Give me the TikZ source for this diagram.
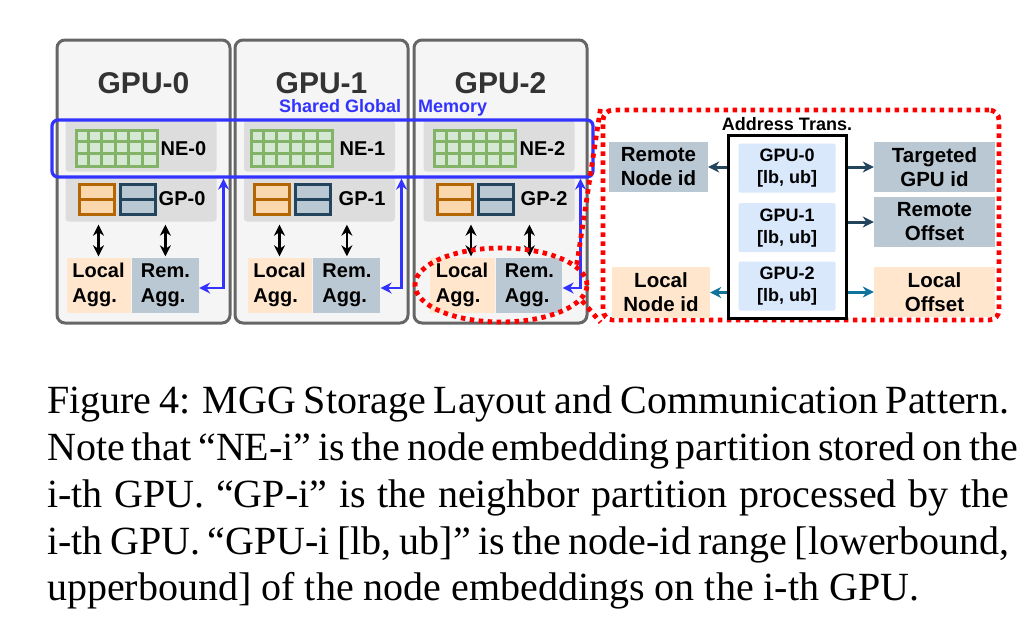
\documentclass[tikz,border=0pt]{standalone}
\usepackage{fontspec}
\setmainfont{Liberation Serif}
\setsansfont{Liberation Sans}
\usetikzlibrary{shapes.geometric,arrows.meta,positioning,calc}

\definecolor{gpuedge}{HTML}{666666}
\definecolor{gpufill}{HTML}{F5F5F5}
\definecolor{partgray}{HTML}{DDDDDD}
\definecolor{negreen}{HTML}{82B366}
\definecolor{nefill}{HTML}{D5E8D4}
\definecolor{orgedge}{HTML}{B46504}
\definecolor{orgfill}{HTML}{FAD7AC}
\definecolor{slateedge}{HTML}{23445D}
\definecolor{slatefill}{HTML}{BAC8D3}
\definecolor{peach}{HTML}{FFE6CC}
\definecolor{rangefill}{HTML}{DAE8FC}
\definecolor{memblue}{HTML}{3333FF}
\definecolor{tealarrow}{HTML}{10739E}
\definecolor{titlegray}{HTML}{333333}

\begin{document}
\begin{tikzpicture}[
  x=1pt, y=-1pt,
  >={Stealth[length=11pt,width=11pt]},
  gpubox/.style={draw=gpuedge, fill=gpufill, line width=3pt, rounded corners=8pt,
    minimum width=173pt, minimum height=283pt},
  gputitle/.style={text=titlegray, inner sep=0pt, font=\sffamily\bfseries\fontsize{30}{36}\selectfont},
  partbox/.style={fill=partgray, rounded corners=3pt, minimum width=151pt},
  negrid/.style={draw=negreen, fill=nefill, line width=3pt, inner sep=0pt,
    minimum width=81pt, minimum height=36pt},
  gridline/.style={draw=negreen, line width=3pt},
  gpcell/.style={line width=3pt, inner sep=0pt, minimum width=35pt, minimum height=30pt},
  partlabel/.style={inner sep=0pt, font=\sffamily\bfseries\fontsize{20}{24}\selectfont},
  aggbox/.style={minimum height=55pt, inner sep=0pt, align=left,
    font=\sffamily\bfseries\fontsize{20}{25}\selectfont},
  aggarrow/.style={<->, line width=2.5pt, shorten <=3pt, shorten >=1pt},
  memrect/.style={draw=memblue, line width=3.2pt, rounded corners=6pt,
    minimum width=541pt, minimum height=57pt},
  memarrow/.style={<->, draw=memblue, line width=2.8pt},
  reddot/.style={draw=red, line width=4.8pt, dash pattern=on 4.5pt off 4.5pt},
  rangebox/.style={fill=rangefill, rounded corners=2pt, minimum width=97pt, minimum height=49pt,
    inner sep=0pt, align=center, font=\sffamily\bfseries\fontsize{18}{22}\selectfont},
  infobox/.style={minimum height=50pt, inner sep=0pt, align=center,
    font=\sffamily\bfseries\fontsize{20.5}{24}\selectfont},
  idarrow/.style={->, line width=3pt},
  caption/.style={inner sep=0pt, anchor=base west, font=\fontsize{40}{47}\selectfont}
]

\path[use as bounding box, fill=white] (0,0) rectangle (1036,629);

% GPU-0
\node[gpubox] (GPU0) at (143.5,181.5) {};
\node[gputitle] (Title0) at ($(GPU0.north)+(0,45)$) {GPU-0};
\node[partbox, minimum height=51pt] (NEpart0) at ($(GPU0.north west)+(85.5,107.5)$) {};
\node[partbox, minimum height=45pt] (GPpart0) at ($(GPU0.north west)+(85.5,160.5)$) {};
\node[negrid] (NEgrid0) at ($(GPU0.north west)+(61,110)$) {};
\foreach \k in {1,...,5} \draw[gridline] ($(NEgrid0.north west)+(13.5*\k,0)$) -- ++(0,36);
\foreach \k in {1,2} \draw[gridline] ($(NEgrid0.north west)+(0,12*\k)$) -- ++(81,0);
\node[partlabel, right=2pt of NEgrid0] (NElabel0) {NE-0};
\node[gpcell, draw=orgedge, fill=orgfill] (GPloc0) at ($(GPU0.north west)+(41,160.5)$) {};
\draw[orgedge, line width=3pt] (GPloc0.west) -- (GPloc0.east);
\node[gpcell, draw=slateedge, fill=slatefill, right=3pt of GPloc0] (GPrem0) {};
\draw[slateedge, line width=3pt] (GPrem0.west) -- (GPrem0.east);
\node[partlabel, right=2pt of GPrem0] (GPlabel0) {GP-0};
\node[aggbox, fill=peach, minimum width=64pt] (LocAgg0) at ($(GPU0.north west)+(43,246.5)$) {Local\\Agg.};
\node[aggbox, fill=slatefill, minimum width=67pt, right=1pt of LocAgg0] (RemAgg0) {Rem.\\Agg.};
\draw[aggarrow] (LocAgg0.north |- GPpart0.south) -- (LocAgg0.north);
\draw[aggarrow] (RemAgg0.north |- GPpart0.south) -- (RemAgg0.north);

% GPU-1
\node[gpubox] (GPU1) at ($(GPU0.center)+(178,0)$) {};
\node[gputitle] (Title1) at ($(GPU1.north)+(0,45)$) {GPU-1};
\node[partbox, minimum height=51pt] (NEpart1) at ($(GPU1.north west)+(86,107.5)$) {};
\node[partbox, minimum height=45pt] (GPpart1) at ($(GPU1.north west)+(86,160.5)$) {};
\node[negrid] (NEgrid1) at ($(GPU1.north west)+(58,110)$) {};
\foreach \k in {1,...,5} \draw[gridline] ($(NEgrid1.north west)+(13.5*\k,0)$) -- ++(0,36);
\foreach \k in {1,2} \draw[gridline] ($(NEgrid1.north west)+(0,12*\k)$) -- ++(81,0);
\node[partlabel, right=6pt of NEgrid1] (NElabel1) {NE-1};
\node[gpcell, draw=orgedge, fill=orgfill] (GPloc1) at ($(GPU1.north west)+(38,160.5)$) {};
\draw[orgedge, line width=3pt] (GPloc1.west) -- (GPloc1.east);
\node[gpcell, draw=slateedge, fill=slatefill, right=3pt of GPloc1] (GPrem1) {};
\draw[slateedge, line width=3pt] (GPrem1.west) -- (GPrem1.east);
\node[partlabel, right=7pt of GPrem1] (GPlabel1) {GP-1};
\node[aggbox, fill=peach, minimum width=64pt] (LocAgg1) at ($(GPU1.north west)+(46,246.5)$) {Local\\Agg.};
\node[aggbox, fill=slatefill, minimum width=67pt, right=1.5pt of LocAgg1] (RemAgg1) {Rem.\\Agg.};
\draw[aggarrow] (LocAgg1.north |- GPpart1.south) -- (LocAgg1.north);
\draw[aggarrow] (RemAgg1.north |- GPpart1.south) -- (RemAgg1.north);

% GPU-2
\node[gpubox] (GPU2) at ($(GPU1.center)+(179,0)$) {};
\node[gputitle] (Title2) at ($(GPU2.north)+(0,45)$) {GPU-2};
\node[partbox, minimum height=51pt] (NEpart2) at ($(GPU2.north west)+(86.5,107.5)$) {};
\node[partbox, minimum height=45pt] (GPpart2) at ($(GPU2.north west)+(86.5,160.5)$) {};
\node[negrid] (NEgrid2) at ($(GPU2.north west)+(62,110)$) {};
\foreach \k in {1,...,5} \draw[gridline] ($(NEgrid2.north west)+(13.5*\k,0)$) -- ++(0,36);
\foreach \k in {1,2} \draw[gridline] ($(NEgrid2.north west)+(0,12*\k)$) -- ++(81,0);
\node[partlabel, right=3pt of NEgrid2] (NElabel2) {NE-2};
\node[gpcell, draw=orgedge, fill=orgfill] (GPloc2) at ($(GPU2.north west)+(42,160.5)$) {};
\draw[orgedge, line width=3pt] (GPloc2.west) -- (GPloc2.east);
\node[gpcell, draw=slateedge, fill=slatefill, right=3pt of GPloc2] (GPrem2) {};
\draw[slateedge, line width=3pt] (GPrem2.west) -- (GPrem2.east);
\node[partlabel, right=6pt of GPrem2] (GPlabel2) {GP-2};
\node[aggbox, fill=peach, minimum width=65pt] (LocAgg2) at ($(GPU2.north west)+(49.5,246.5)$) {Local\\Agg.};
\node[aggbox, fill=slatefill, minimum width=66pt, right=1.5pt of LocAgg2] (RemAgg2) {Rem.\\Agg.};
\draw[aggarrow] ([xshift=9pt]LocAgg2.north |- GPpart2.south) -- ([xshift=9pt]LocAgg2.north);
\draw[aggarrow] (RemAgg2.north |- GPpart2.south) -- (RemAgg2.north);

% shared global memory
\node[memrect] (SGM) at (322.5,148.5) {};
\node[anchor=base west, inner sep=0pt, text=memblue, font=\sffamily\bfseries\fontsize{18}{22}\selectfont]
  (SGMlabel) at (279,112.5) {Shared Global\hspace{12pt} Memory};
\coordinate (Up0) at ($(GPU0.east)+(-8,0)$);
\coordinate (Up1) at ($(GPU1.east)+(-8,0)$);
\coordinate (Up2) at ($(GPU2.east)+(-8,0)$);
\draw[memarrow] ([yshift=-3pt]RemAgg0.east) -| (Up0 |- SGM.south);
\draw[memarrow] ([yshift=-3pt]RemAgg1.east) -| (Up1 |- SGM.south);
\draw[memarrow] ([yshift=-3pt]RemAgg2.east) -| (Up2 |- SGM.south);

% address translation
\node[reddot, ellipse, minimum width=172pt, minimum height=74pt] (AggRing) at (501,285) {};
\node[reddot, rounded corners=10pt, minimum width=396pt, minimum height=210pt] (ATzone) at (801,215) {};
\draw[reddot] (AggRing.15) -- (ATzone.north west);
\draw[reddot] (AggRing.-11) -- (ATzone.south west);

\node[draw, line width=3pt, minimum width=118pt, minimum height=183pt] (ATbox) at (787,226.5) {};
\node[above=3pt of ATbox, inner sep=0pt, font=\sffamily\bfseries\fontsize{18}{22}\selectfont] (ATtitle) {Address Trans.};
\node[rangebox, below=10pt of ATbox.north] (Range0) {GPU-0\\{[lb, ub]}};
\node[rangebox, below=10pt of Range0] (Range1) {GPU-1\\{[lb, ub]}};
\node[rangebox, below=9pt of Range1] (Range2) {GPU-2\\{[lb, ub]}};

\node[infobox, fill=slatefill, minimum width=99pt] (RemoteNode) at (658.5,167) {Remote\\Node id};
\node[infobox, fill=peach, minimum width=98pt, minimum height=51pt] (LocalNode) at (661,292.5) {Local\\Node id};
\node[infobox, fill=slatefill, minimum width=121pt] (TargetGPU) at (934.5,167) {Targeted\\GPU id};
\node[infobox, fill=slatefill, minimum width=121pt] (RemoteOff) at (934.5,222) {Remote\\Offset};
\node[infobox, fill=peach, minimum width=121pt] (LocalOff) at (934.5,292) {Local\\Offset};

\draw[idarrow, slateedge] (ATbox.west |- RemoteNode) -- (RemoteNode.east);
\draw[idarrow, slateedge] (ATbox.east |- TargetGPU) -- (TargetGPU.west);
\draw[idarrow, slateedge] (ATbox.east |- RemoteOff) -- (RemoteOff.west);
\draw[idarrow, tealarrow] (ATbox.west |- LocalNode) -- (LocalNode.east);
\draw[idarrow, tealarrow] (ATbox.east |- LocalOff) -- (LocalOff.west);

% caption
\node[caption] (Cap1) at (47,413) {\makebox[962pt][s]{Figure 4: MGG Storage Layout and Communication Pattern.}};
\node[caption] (Cap2) at (47,460) {\makebox[962pt][s]{Note that “NE-i” is the node embedding partition stored on the}};
\node[caption] (Cap3) at (47,507) {\makebox[962pt][s]{i-th GPU. “GP-i” is the neighbor partition processed by the}};
\node[caption] (Cap4) at (47,554) {\makebox[962pt][s]{i-th GPU. “GPU-i [lb, ub]” is the node-id range [lowerbound,}};
\node[caption] (Cap5) at (47,600) {upperbound] of the node embeddings on the i-th GPU.};

\end{tikzpicture}
\end{document}
